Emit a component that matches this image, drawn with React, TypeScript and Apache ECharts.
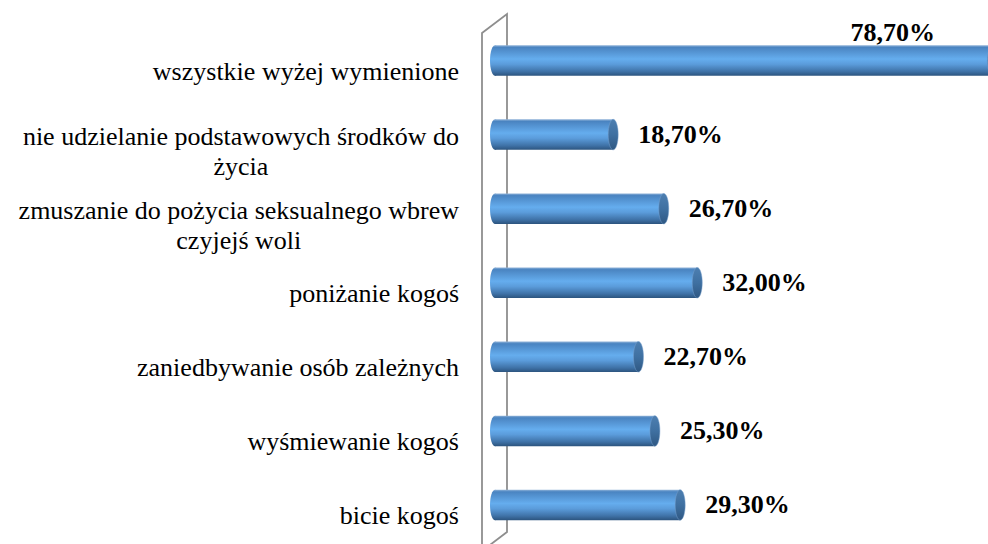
import React, { useEffect, useRef } from "react";
import * as echarts from "echarts";

const CATEGORIES = [
  "wszystkie wyżej wymienione",
  "nie udzielanie podstawowych środków do\nżycia",
  "zmuszanie do pożycia seksualnego wbrew\nczyjejś woli",
  "poniżanie kogoś",
  "zaniedbywanie osób zależnych",
  "wyśmiewanie kogoś",
  "bicie kogoś",
];
const VALUES = [78.7, 18.7, 26.7, 32.0, 22.7, 25.3, 29.3];

const W = 988;
const H = 544;
const GRID_LEFT = 495;
const GRID_TOP = 23.5;
const GRID_BOTTOM = 2;
const BAR_H = 30.5;
const CAP_RX = 5;
const LABEL_GAP = 20;
const CAT_MARGIN = 36;
const CAT_DY = 11;
const LINE_H = 30;
const SERIF = "'Times New Roman', 'Liberation Serif', serif";

const fmt = (v: number) => v.toFixed(2).replace(".", ",") + "%";

const measure = (t: string) =>
  new echarts.graphic.Text({
    style: { text: t, fontFamily: SERIF, fontSize: 26 },
  }).getBoundingRect().width;

export default function App() {
  const ref = useRef<HTMLDivElement>(null);
  useEffect(() => {
    if (!ref.current) return;
    const chart = echarts.init(ref.current, null, { renderer: "svg" });
    const bodyGrad = () =>
      new echarts.graphic.LinearGradient(0, 0, 0, 1, [
        { offset: 0, color: "#8fb2d8" },
        { offset: 0.07, color: "#4a84c1" },
        { offset: 0.45, color: "#65adee" },
        { offset: 0.62, color: "#5b9cdb" },
        { offset: 0.86, color: "#3f72a7" },
        { offset: 1, color: "#2c547e" },
      ]);
    const capGrad = () =>
      new echarts.graphic.LinearGradient(0, 0, 0, 1, [
        { offset: 0, color: "#4d7fb1" },
        { offset: 0.5, color: "#3f70a1" },
        { offset: 1, color: "#2f5883" },
      ]);
    const wallL = GRID_LEFT - 13;
    const wallR = GRID_LEFT + 12;
    const catText = (text: string, x: number, y: number, align: string) => ({
      type: "text",
      style: {
        text,
        x,
        y,
        align,
        verticalAlign: "middle",
        fontFamily: SERIF,
        fontSize: 26,
        fill: "#000",
      },
    });
    chart.setOption({
      animation: false,
      backgroundColor: "#ffffff",
      grid: { left: GRID_LEFT, right: 0, top: GRID_TOP, bottom: GRID_BOTTOM },
      xAxis: { type: "value", min: 0, max: 78, show: false },
      yAxis: {
        type: "category",
        inverse: true,
        data: CATEGORIES,
        axisLine: { show: false },
        axisTick: { show: false },
        splitLine: { show: false },
        axisLabel: { show: false },
      },
      graphic: [
        {
          type: "polygon",
          z: 0,
          silent: true,
          shape: {
            points: [
              [wallL, 33],
              [wallR, 14],
              [wallR, 532],
              [wallL, 551],
            ],
          },
          style: { fill: "#ffffff", stroke: "#8e8e8e", lineWidth: 1.8 },
        },
      ],
      series: [
        {
          type: "custom",
          name: "labels",
          clip: false,
          z: 3,
          silent: true,
          encode: { x: 0, y: 1 },
          data: CATEGORIES.map((_, i) => [0, i]),
          renderItem: (params: any, api: any) => {
            const i = api.value(1);
            const p = api.coord([0, i]);
            const xr = p[0] - CAT_MARGIN;
            const name = CATEGORIES[i];
            const lines = name.split("\n");
            if (lines.length === 1) {
              return catText(name, xr, p[1] + CAT_DY, "right");
            }
            const maxW = Math.max(...lines.map(measure));
            const cx = xr - maxW / 2;
            return {
              type: "group",
              children: lines.map((l, k) =>
                catText(l, cx, p[1] + 2 + k * LINE_H, "center")
              ),
            };
          },
        },
        {
          type: "custom",
          name: "bars",
          clip: false,
          z: 5,
          encode: { x: 0, y: 1 },
          data: VALUES.map((v, i) => [v, i]),
          renderItem: (params: any, api: any) => {
            const v = api.value(0);
            const i = api.value(1);
            const p0 = api.coord([0, i]);
            const p1 = api.coord([v, i]);
            const cy = p0[1];
            const x0 = p0[0];
            const x1 = p1[0];
            const h = BAR_H;
            const cs = params.coordSys;
            const plotRight = cs.x + cs.width;
            const overflow = x1 + CAP_RX > plotRight;
            const text = fmt(v);
            const label = {
              type: "text",
              z2: 10,
              style: {
                text,
                x: overflow ? plotRight - 53 : x1 + CAP_RX + LABEL_GAP,
                y: overflow ? cy - h / 2 - 13 : cy,
                align: overflow ? "right" : "left",
                verticalAlign: "middle",
                fontFamily: SERIF,
                fontWeight: "bold",
                fontSize: 26,
                fill: "#000",
              },
            };
            return {
              type: "group",
              children: [
                {
                  type: "ellipse",
                  shape: { cx: x0, cy, rx: CAP_RX, ry: h / 2 },
                  style: { fill: bodyGrad() },
                },
                {
                  type: "rect",
                  shape: { x: x0, y: cy - h / 2, width: x1 - x0, height: h },
                  style: { fill: bodyGrad() },
                },
                {
                  type: "ellipse",
                  shape: { cx: x1, cy, rx: CAP_RX, ry: h / 2 },
                  style: {
                    fill: capGrad(),
                    stroke: "rgba(120,160,205,0.6)",
                    lineWidth: 0.8,
                  },
                },
                label,
              ],
            };
          },
        },
      ],
    });
    return () => chart.dispose();
  }, []);
  return (
    <div
      ref={ref}
      style={{ position: "fixed", left: 0, top: 0, width: W, height: H }}
    />
  );
}
